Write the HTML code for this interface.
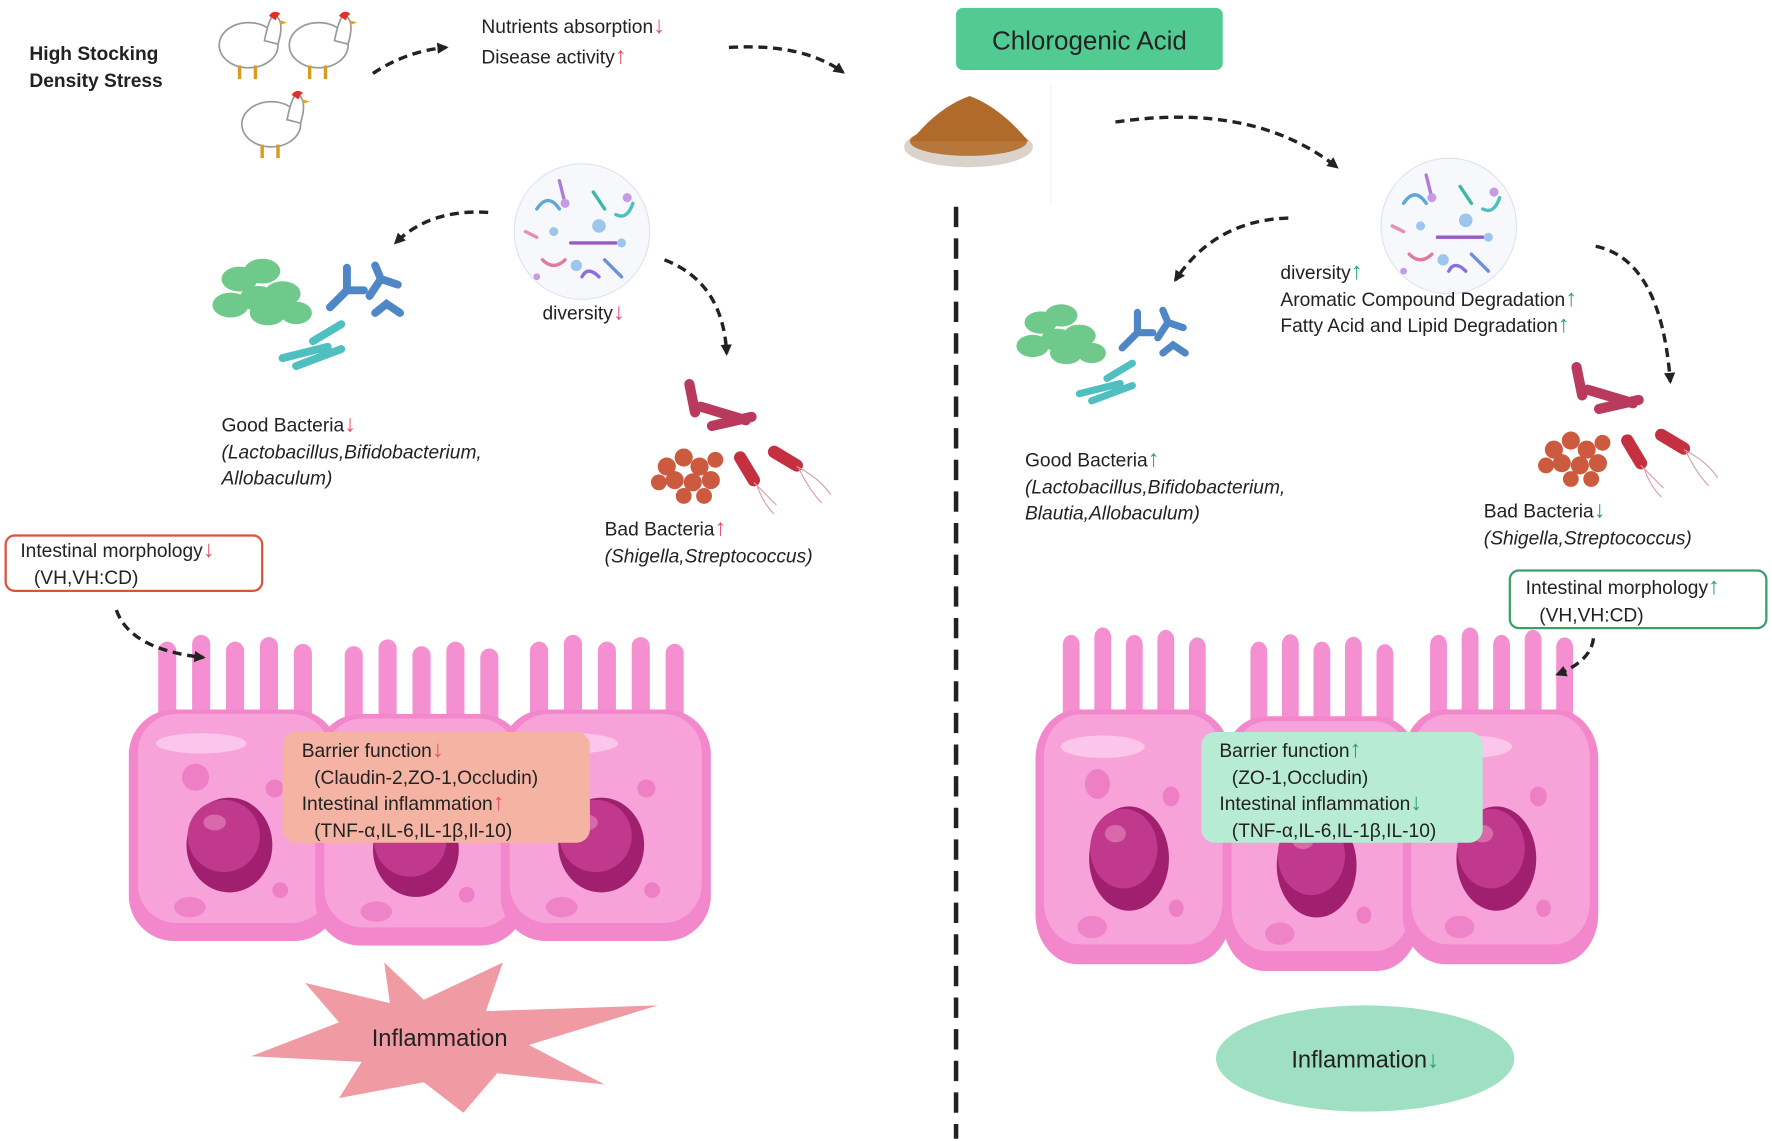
<!DOCTYPE html>
<html><head><meta charset="utf-8"><style>
html,body{margin:0;padding:0;background:#fff;}
svg{display:block;}
text{font-family:"Liberation Sans",sans-serif;fill:#222;}
.it{font-style:italic;}
.r{fill:#e8506a;font-weight:bold;font-size:21px;}
.g{fill:#26a26b;font-weight:bold;font-size:21px;}
</style></head><body>
<svg width="1772" height="1141" viewBox="0 0 1568 1010" preserveAspectRatio="none" xmlns="http://www.w3.org/2000/svg">
<defs>
<marker id="ah" markerWidth="12" markerHeight="12" refX="8" refY="5" orient="auto" markerUnits="userSpaceOnUse"><path d="M0,0 L10,5 L0,10 Z" fill="#222"/></marker>
<g id="cell">
  <g fill="#f490d2">
    <path d="M22,95 V8 a8,8 0 0 1 16,0 V95 Z"/>
    <path d="M52,95 V2 a8,8 0 0 1 16,0 V95 Z"/>
    <path d="M82,95 V8 a8,8 0 0 1 16,0 V95 Z"/>
    <path d="M112,95 V4 a8,8 0 0 1 16,0 V95 Z"/>
    <path d="M142,95 V10 a8,8 0 0 1 16,0 V95 Z"/>
  </g>
  <rect x="-4" y="60" width="186" height="205" rx="40" fill="#f287cc"/>
  <rect x="4" y="64" width="170" height="185" rx="34" fill="#f7a3da"/>
  <ellipse cx="60" cy="90" rx="40" ry="9" fill="#fbc6e9"/>
  <circle cx="55" cy="120" r="12" fill="#ee7fc4"/>
  <circle cx="125" cy="130" r="8" fill="#ee7fc4"/>
  <circle cx="130" cy="220" r="7" fill="#ee7fc4"/>
  <ellipse cx="50" cy="235" rx="14" ry="9" fill="#ee84c7"/>
  <ellipse cx="85" cy="180" rx="38" ry="42" fill="#a0206f"/>
  <ellipse cx="80" cy="172" rx="32" ry="32" fill="#c0398c"/>
  <ellipse cx="72" cy="160" rx="10" ry="7" fill="#d86aaa"/>
</g>
<g id="microbe">
  <circle cx="0" cy="0" r="60" fill="#f6f8fc" stroke="#dde3ef"/>
  <g stroke-width="3" fill="none" stroke-linecap="round">
    <path d="M-40,-20 q10,-15 20,0" stroke="#5fa7d8"/>
    <path d="M-10,10 h40" stroke="#9b59c8"/>
    <path d="M10,-35 l10,15" stroke="#3fb7a8"/>
    <path d="M-35,25 q10,10 20,0" stroke="#e07aa0"/>
    <path d="M20,25 l15,15" stroke="#6c8fe0"/>
    <path d="M-20,-45 l5,20" stroke="#b07ad8"/>
    <path d="M30,-15 q10,5 15,-10" stroke="#4cc0c0"/>
    <path d="M-50,0 l10,5" stroke="#e58fb5"/>
    <path d="M0,40 q5,-10 15,0" stroke="#8c6ee0"/>
  </g>
  <g fill="#9cc6ee"><circle cx="15" cy="-5" r="6"/><circle cx="-25" cy="0" r="4"/><circle cx="35" cy="10" r="4"/><circle cx="-5" cy="30" r="5"/></g>
  <g fill="#c59ae6"><circle cx="-15" cy="-25" r="4"/><circle cx="40" cy="-30" r="4"/><circle cx="-40" cy="40" r="3"/></g>
</g>
<g id="good">
  <g fill="#6fc98a"><ellipse cx="20" cy="15" rx="16" ry="11"/><ellipse cx="40" cy="8" rx="16" ry="11"/><ellipse cx="12" cy="38" rx="16" ry="11"/><ellipse cx="36" cy="32" rx="16" ry="11"/><ellipse cx="58" cy="28" rx="16" ry="11"/><ellipse cx="45" cy="45" rx="16" ry="11"/><ellipse cx="70" cy="45" rx="14" ry="10"/></g>
  <g stroke="#4f86c6" stroke-width="7" stroke-linecap="round" fill="none"><path d="M100,40 l15,-15 l0,-20 M115,25 l15,0"/><path d="M135,30 l10,-15 l15,5 M145,15 l-5,-12"/><path d="M140,45 l10,-8 l12,8"/></g>
  <g stroke="#4fbfbf" stroke-width="7" stroke-linecap="round" fill="none"><path d="M58,85 l40,-10 M70,92 l40,-15 M85,70 l25,-15"/></g>
</g>
<g id="bad">
  <g stroke="#b93a5c" stroke-width="9" stroke-linecap="round" fill="none"><path d="M5,5 l5,25 M15,25 l40,12 M25,42 l35,-8"/></g>
  <g fill="#cc5a3e"><circle cx="-15" cy="78" r="8"/><circle cx="0" cy="70" r="8"/><circle cx="14" cy="78" r="8"/><circle cx="-8" cy="90" r="8"/><circle cx="8" cy="92" r="8"/><circle cx="24" cy="90" r="8"/><circle cx="-22" cy="92" r="7"/><circle cx="0" cy="104" r="7"/><circle cx="18" cy="104" r="7"/><circle cx="28" cy="72" r="7"/></g>
  <g stroke="#c4303f" stroke-width="11" stroke-linecap="round"><path d="M50,70 l12,20"/><path d="M80,65 l20,12"/></g>
  <g stroke="#d8a0a8" stroke-width="1" fill="none"><path d="M62,92 q10,10 20,20 M100,78 q20,10 30,25 M65,95 q5,15 15,25 M102,80 q10,20 20,30"/></g>
</g>
<g id="hen">
  <ellipse cx="30" cy="32" rx="26" ry="20" fill="#fff" stroke="#999" stroke-width="1.5"/>
  <path d="M44,28 q5,-25 10,-22 q8,5 2,25 Z" fill="#fff" stroke="#999" stroke-width="1.5"/>
  <path d="M48,6 q4,-6 10,-2 q-3,3 -4,6 Z" fill="#e0302a"/>
  <path d="M58,10 l6,2 l-6,2 Z" fill="#e8a020"/>
  <path d="M22,50 v12 M36,50 v12" stroke="#d89a20" stroke-width="3"/>
</g>
</defs>

<text x="26" y="53" font-size="17" font-weight="bold">High Stocking</text>
<text x="26" y="77" font-size="17" font-weight="bold">Density Stress</text>
<use href="#hen" x="190" y="8"/>
<use href="#hen" x="252" y="8"/>
<use href="#hen" x="210" y="78"/>
<path d="M330,65 Q360,45 395,42" stroke="#222" stroke-width="3" stroke-dasharray="8,5" fill="none" marker-end="url(#ah)"/>
<text x="426" y="29" font-size="17">Nutrients absorption<tspan class="r">↓</tspan></text>
<text x="426" y="56" font-size="17">Disease activity<tspan class="r">↑</tspan></text>
<path d="M645,42 Q710,38 746,64" stroke="#222" stroke-width="3" stroke-dasharray="8,5" fill="none" marker-end="url(#ah)"/>

<rect x="846" y="7" width="236" height="55" rx="6" fill="#52cb93"/>
<text x="964" y="44" font-size="23" text-anchor="middle">Chlorogenic Acid</text>
<ellipse cx="857" cy="130" rx="57" ry="18" fill="#d9d3cc"/>
<ellipse cx="857" cy="125" rx="52" ry="13" fill="#b8773a"/>
<path d="M806,125 Q830,95 858,85 Q885,95 910,125 Z" fill="#b06a2a"/>
<line x1="930" y1="75" x2="930" y2="180" stroke="#eee"/>

<line x1="846" y1="183" x2="846" y2="1008" stroke="#222" stroke-width="4" stroke-dasharray="18,10"/>

<use href="#microbe" x="515" y="205"/>
<path d="M432,188 Q380,185 350,215" stroke="#222" stroke-width="3" stroke-dasharray="8,5" fill="none" marker-end="url(#ah)"/>
<path d="M588,230 Q640,250 643,313" stroke="#222" stroke-width="3" stroke-dasharray="8,5" fill="none" marker-end="url(#ah)"/>
<text x="480" y="283" font-size="17">diversity<tspan class="r">↓</tspan></text>
<use href="#good" x="192" y="232"/>
<text x="196" y="382" font-size="17">Good Bacteria<tspan class="r">↓</tspan></text>
<text x="196" y="406" font-size="17" class="it">(Lactobacillus,Bifidobacterium,</text>
<text x="196" y="429" font-size="17" class="it">Allobaculum)</text>
<use href="#bad" x="605" y="335"/>
<text x="535" y="474" font-size="17">Bad Bacteria<tspan class="r">↑</tspan></text>
<text x="535" y="498" font-size="17" class="it">(Shigella,Streptococcus)</text>

<rect x="5" y="474" width="227" height="49" rx="8" fill="#fff" stroke="#d9553a" stroke-width="2"/>
<text x="18" y="493" font-size="17">Intestinal morphology<tspan class="r">↓</tspan></text>
<text x="30" y="517" font-size="17">(VH,VH:CD)</text>

<use href="#cell" x="118" y="568"/>
<use href="#cell" x="283" y="572"/>
<use href="#cell" x="447" y="568"/>
<path d="M103,540 Q115,575 180,582" stroke="#222" stroke-width="3" stroke-dasharray="8,5" fill="none" marker-end="url(#ah)"/>
<rect x="250" y="648" width="272" height="98" rx="12" fill="#f5b4a3"/>
<text x="267" y="670" font-size="17">Barrier function<tspan class="r">↓</tspan></text>
<text x="278" y="694" font-size="17">(Claudin-2,ZO-1,Occludin)</text>
<text x="267" y="717" font-size="17">Intestinal inflammation<tspan class="r">↑</tspan></text>
<text x="278" y="741" font-size="17">(TNF-α,IL-6,IL-1β,Il-10)</text>

<path d="M340,852 L375,885 L445,852 L430,895 L582,890 L468,925 L535,960 L440,950 L410,985 L375,958 L300,972 L320,940 L222,935 L300,905 L270,870 L345,888 Z" fill="#f09ba3"/>
<text x="389" y="926" font-size="21" text-anchor="middle">Inflammation</text>

<path d="M987,108 Q1110,90 1183,148" stroke="#222" stroke-width="3" stroke-dasharray="8,5" fill="none" marker-end="url(#ah)"/>
<use href="#microbe" x="1282" y="200"/>
<path d="M1140,193 Q1075,195 1040,248" stroke="#222" stroke-width="3" stroke-dasharray="8,5" fill="none" marker-end="url(#ah)"/>
<path d="M1412,218 Q1470,230 1478,338" stroke="#222" stroke-width="3" stroke-dasharray="8,5" fill="none" marker-end="url(#ah)"/>
<text x="1133" y="247" font-size="17">diversity<tspan class="g">↑</tspan></text>
<text x="1133" y="271" font-size="17">Aromatic Compound Degradation<tspan class="g">↑</tspan></text>
<text x="1133" y="294" font-size="17">Fatty Acid and Lipid Degradation<tspan class="g">↑</tspan></text>
<g transform="translate(903,272) scale(0.9)"><use href="#good"/></g>
<text x="907" y="413" font-size="17">Good Bacteria<tspan class="g">↑</tspan></text>
<text x="907" y="437" font-size="17" class="it">(Lactobacillus,Bifidobacterium,</text>
<text x="907" y="460" font-size="17" class="it">Blautia,Allobaculum)</text>
<use href="#bad" x="1390" y="320"/>
<text x="1313" y="458" font-size="17">Bad Bacteria<tspan class="g">↓</tspan></text>
<text x="1313" y="482" font-size="17" class="it">(Shigella,Streptococcus)</text>

<rect x="1336" y="505" width="227" height="51" rx="8" fill="#fff" stroke="#3aa06a" stroke-width="2"/>
<text x="1350" y="526" font-size="17">Intestinal morphology<tspan class="g">↑</tspan></text>
<text x="1362" y="550" font-size="17">(VH,VH:CD)</text>

<g transform="translate(920,562) scale(0.93,1.1)"><use href="#cell"/></g>
<g transform="translate(1086,568) scale(0.93,1.1)"><use href="#cell"/></g>
<g transform="translate(1245,562) scale(0.93,1.1)"><use href="#cell"/></g>
<path d="M1410,565 Q1408,585 1378,597" stroke="#222" stroke-width="3" stroke-dasharray="8,5" fill="none" marker-end="url(#ah)"/>
<rect x="1063" y="648" width="249" height="98" rx="12" fill="#b7ebd4"/>
<text x="1079" y="670" font-size="17">Barrier function<tspan class="g">↑</tspan></text>
<text x="1090" y="694" font-size="17">(ZO-1,Occludin)</text>
<text x="1079" y="717" font-size="17">Intestinal inflammation<tspan class="g">↓</tspan></text>
<text x="1090" y="741" font-size="17">(TNF-α,IL-6,IL-1β,IL-10)</text>

<ellipse cx="1208" cy="937" rx="132" ry="47" fill="#9ee0c1"/>
<text x="1208" y="945" font-size="21" text-anchor="middle">Inflammation<tspan class="g">↓</tspan></text>
</svg>
</body></html>
